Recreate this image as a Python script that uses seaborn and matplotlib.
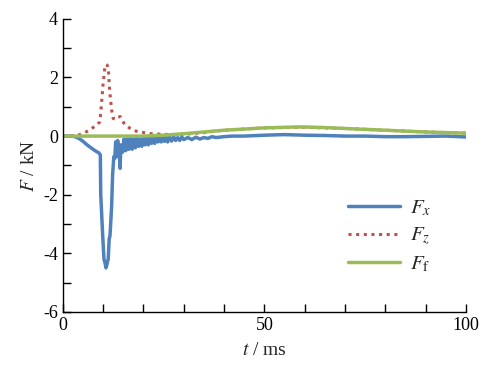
import numpy as np
import matplotlib
matplotlib.use("Agg")
import matplotlib.pyplot as plt
from matplotlib.ticker import MultipleLocator
import seaborn as sns
import pandas as pd

# values (t in ms, F in kN)
t_fx = [0, 2, 3, 4, 5, 6, 7, 8, 9.0, 9.3, 9.4, 9.85, 10.2, 10.5, 10.7, 10.9, 11.25, 11.5, 11.7,
        12.1, 12.35, 12.65,
        12.9, 13.1, 13.3, 13.6, 14.0, 14.2, 14.4, 14.8, 15.2, 15.6, 16.0, 16.4, 16.8, 17.2, 17.6,
        18.0, 18.4, 18.8, 19.2, 19.6, 20.0, 20.4, 20.8, 21.2, 21.6, 22.0, 22.4, 22.8, 23.2, 23.6,
        24.0, 24.4, 24.8, 25.2, 25.6, 26.0, 26.5, 27.0, 27.5, 28.0, 28.5, 29.0, 29.5, 30.0,
        31, 32, 33, 34, 35, 36, 37, 38, 40, 42, 45, 50, 55, 60, 65, 70, 75, 80, 85, 90, 95, 100]
fx = [0, 0, -0.02, -0.08, -0.18, -0.3, -0.4, -0.5, -0.58, -0.65, -2.0, -3.3, -4.2, -4.35, -4.5,
      -4.4, -4.2, -3.5, -3.4, -2.4, -1.3, -0.7,
      -0.75, -0.2, -0.7, -0.15, -0.6, -1.1, -0.3, -0.55, -0.1, -0.5, -0.1, -0.45, -0.08, -0.45,
      -0.1, -0.4, -0.05, -0.35, -0.1, -0.35, -0.05, -0.3, -0.02, -0.3, -0.05, -0.25, 0.0, -0.25,
      0.02, -0.2, 0.03, -0.2, 0.0, -0.18, -0.02, -0.2, -0.03, -0.17, -0.02, -0.15, -0.05, -0.15,
      -0.03, -0.12,
      -0.05, -0.12, -0.04, -0.1, -0.05, -0.08, -0.02, -0.05, -0.02, 0, 0, 0.03, 0.05, 0.03, 0.02,
      0, 0, -0.02, -0.02, -0.01, 0, -0.03]

t_fz = [0, 2, 4.2, 5.5, 6.7, 7.6, 8.4, 9.2, 9.6, 10.0, 10.4, 10.7, 11.0, 11.25, 11.6, 12.1, 12.5,
        13.0, 13.5, 14.3, 15.3, 16.5, 17.8, 20, 22, 25, 27.4, 30, 35, 40, 50, 60, 70, 80, 90, 100]
fz = [0, 0.01, 0.05, 0.12, 0.22, 0.3, 0.38, 0.49, 1.12, 1.8, 2.3, 2.45, 2.42, 2.35, 1.57, 0.89,
      0.6, 0.58, 0.66, 0.66, 0.4, 0.28, 0.18, 0.12, 0.08, 0.06, 0.05, 0.06, 0.12, 0.2, 0.28,
      0.3, 0.26, 0.2, 0.14, 0.1]

t_ff = [0, 10, 20, 25, 30, 35, 40, 45, 50, 55, 58, 60, 65, 70, 75, 80, 85, 90, 95, 100]
ff = [0, 0, 0, 0.03, 0.08, 0.14, 0.2, 0.24, 0.28, 0.3, 0.31, 0.31, 0.29, 0.26, 0.23, 0.2,
      0.17, 0.14, 0.12, 0.1]

sns.set_style("ticks")
plt.rcParams['font.family'] = ['Liberation Serif', 'DejaVu Serif']
plt.rcParams['mathtext.fontset'] = 'stix'
plt.rcParams['font.size'] = 13
plt.rcParams['axes.unicode_minus'] = False

fig = plt.figure(figsize=(4.95, 3.78), dpi=100)
ax = fig.add_axes([0.127, 0.175, 0.814, 0.775])

df_fx = pd.DataFrame({'t': t_fx, 'F': fx})
df_fz = pd.DataFrame({'t': t_fz, 'F': fz})
df_ff = pd.DataFrame({'t': t_ff, 'F': ff})

sns.lineplot(data=df_fx, x='t', y='F', ax=ax, color='#4F81BD', lw=2.5,
             label=r'$F_x$', estimator=None, sort=False)
sns.lineplot(data=df_fz, x='t', y='F', ax=ax, color='#C0504D', lw=2.2,
             linestyle=(0, (1, 1.5)), label=r'$F_z$', estimator=None, sort=False)
sns.lineplot(data=df_ff, x='t', y='F', ax=ax, color='#9BBB59', lw=2.5,
             label=r'$F_\mathrm{f}$', estimator=None, sort=False)

ax.set_xlim(0, 100)
ax.set_ylim(-6, 4)
ax.xaxis.set_major_locator(MultipleLocator(50))
ax.xaxis.set_minor_locator(MultipleLocator(10))
ax.yaxis.set_major_locator(MultipleLocator(2))
ax.yaxis.set_minor_locator(MultipleLocator(1))
ax.tick_params(which='both', direction='in', width=1, colors='black', labelsize=13)
ax.tick_params(which='major', length=6)
ax.tick_params(which='minor', length=6)
sns.despine(ax=ax)
for s in ['left', 'bottom']:
    ax.spines[s].set_color('black')
    ax.spines[s].set_linewidth(1)

ax.set_xlabel(r'$t$ / ms', fontsize=14, labelpad=6)
ax.set_ylabel(r'$F$ / kN', fontsize=14, labelpad=4)

ax.legend(loc='upper left', bbox_to_anchor=(0.66, 0.45), frameon=False, fontsize=15,
          handlelength=2.5, labelspacing=0.35, handletextpad=0.5)

fig.savefig('out.png', dpi=100)
